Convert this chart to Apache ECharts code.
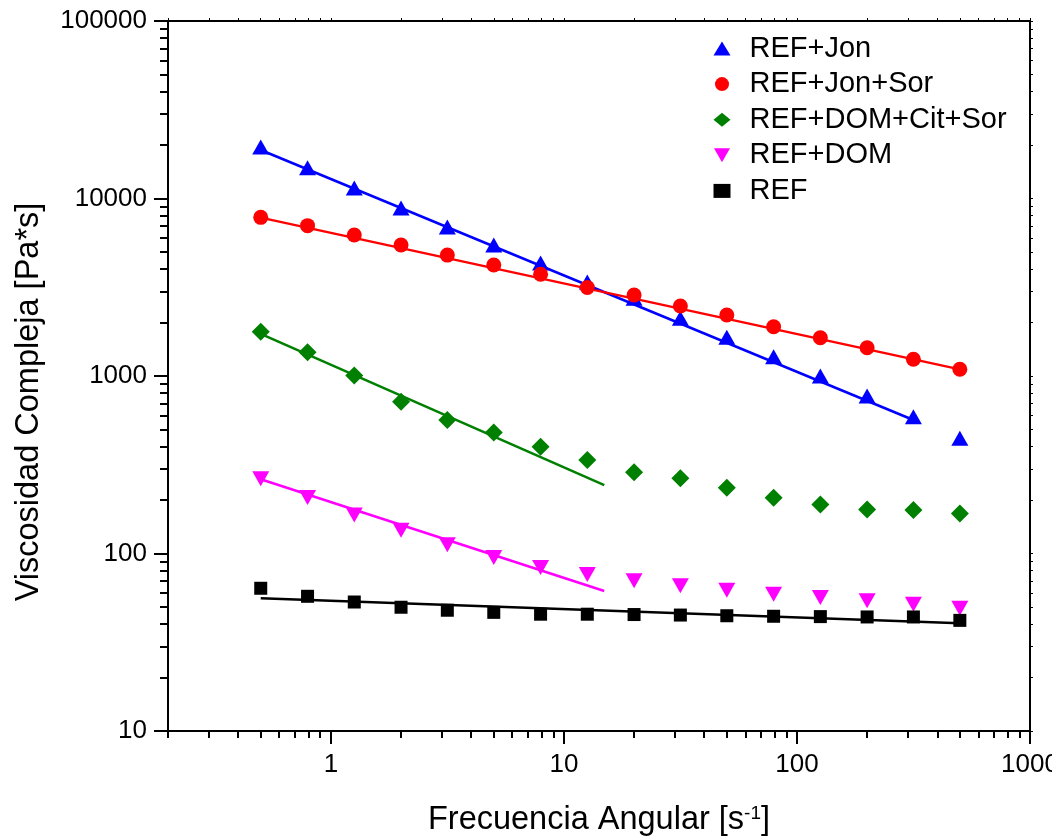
<!DOCTYPE html>
<html><head><meta charset="utf-8">
<script src="https://cdn.jsdelivr.net/npm/echarts@6/dist/echarts.min.js"></script>
<style>html,body{margin:0;padding:0;background:#fff}#c{width:1052px;height:840px}</style>
</head><body><div id="c"></div>
<script>
// ---- data ----
const freq = [0.5, 0.794, 1.26, 2, 3.16, 5, 7.94, 12.6, 20, 31.6, 50, 79.4, 126, 200, 316, 500];
const seriesNames = ['REF+Jon', 'REF+Jon+Sor', 'REF+DOM+Cit+Sor', 'REF+DOM', 'REF'];
const jon    = [19500, 14900, 11450, 8840, 6910, 5470, 4330, 3385, 2740, 2114, 1652, 1285, 1000, 771, 590, 446];
const jonSor = [7830, 7030, 6230, 5470, 4800, 4220, 3740, 3150, 2860, 2480, 2206, 1895, 1643, 1443, 1242, 1091];
const dcs    = [1778, 1360, 1005, 716, 565, 480, 400, 336, 287, 265, 235, 206, 189, 177, 176, 168];
const dom    = [264, 207, 165, 135, 112, 95, 83.4, 76.2, 70.2, 65.8, 62.1, 59.0, 56.5, 54.1, 51.8, 49.1];
const ref    = [63.7, 57.4, 53.3, 49.8, 47.9, 46.6, 45.5, 45.5, 45.3, 45.0, 44.6, 44.3, 44.1, 43.9, 43.9, 42.0];

// power-law fit lines (end points)
const fitJonX = [0.5, 316],  fitJonY = [18760, 565];
const fitJonSorX = [0.5, 500], fitJonSorY = [7800, 1090];
const fitDcsX = [0.5, 14.9], fitDcsY = [1725, 243];
const fitDomX = [0.5, 14.9], fitDomY = [262, 61.5];
const fitRefX = [0.5, 500],  fitRefY = [56, 40.5];

// tick values
const xMajorTicks = [1, 10, 100, 1000];
const xMinorTicks = [0.2, 0.3, 0.4, 0.5, 0.6, 0.7, 0.8, 0.9,
  2, 3, 4, 5, 6, 7, 8, 9, 20, 30, 40, 50, 60, 70, 80, 90,
  200, 300, 400, 500, 600, 700, 800, 900];
const yMajorTicks = [10, 100, 1000, 10000, 100000];
const yMinorTicks = [20, 30, 40, 50, 60, 70, 80, 90,
  200, 300, 400, 500, 600, 700, 800, 900,
  2000, 3000, 4000, 5000, 6000, 7000, 8000, 9000,
  20000, 30000, 40000, 50000, 60000, 70000, 80000, 90000];

const FONT = '"Liberation Sans", Arial, sans-serif';
const colors = ['#0000ff', '#ff0000', '#008000', '#ff00ff', '#000000'];
const symbols = ['triangle', 'circle', 'diamond', 'path://M0,0L2,0L1,1.75Z', 'rect'];
const symbolSizes = [[17, 15], 15, [18, 18], [17, 15], 13];
const values = [jon, jonSor, dcs, dom, ref];
const fits = [[fitJonX, fitJonY], [fitJonSorX, fitJonSorY], [fitDcsX, fitDcsY], [fitDomX, fitDomY], [fitRefX, fitRefY]];

const pair = (xs, ys) => xs.map((x, i) => [x, ys[i]]);

const series = [];
fits.forEach((f, k) => {
  series.push({
    name: 'fit ' + seriesNames[k], type: 'line', data: pair(f[0], f[1]),
    showSymbol: false, symbol: 'none', lineStyle: { color: colors[k], width: 2.5 }, z: 2, silent: true
  });
});
values.forEach((v, k) => {
  series.push({
    name: seriesNames[k], type: 'scatter', data: pair(freq, v),
    symbol: symbols[k], symbolSize: symbolSizes[k],
    itemStyle: { color: colors[k], opacity: 1 }, z: 3
  });
});

const black = '#000';
const plain = v => String(v);
const common = { type: 'log', splitLine: { show: false }, minorTick: { show: false } };

const option = {
  animation: false,
  backgroundColor: '#fff',
  grid: { left: 168, right: 22, top: 21, bottom: 109, containLabel: false, outerBoundsMode: 'none' },
  legend: {
    orient: 'vertical', left: 708.5, top: 29, itemWidth: 17, itemHeight: 14, itemGap: 6.6,
    selectedMode: false, data: seriesNames,
    textStyle: { fontSize: 29, color: black, fontFamily: FONT, lineHeight: 29, padding: [0, 0, 0, 14] }
  },
  xAxis: [
    Object.assign({}, common, {
      min: 0.2, max: 1000, position: 'bottom',
      axisLine: { show: true, onZero: false, lineStyle: { color: black, width: 2 } },
      axisTick: { show: true, inside: false, length: 13, customValues: xMajorTicks, lineStyle: { color: black, width: 2 } },
      axisLabel: { show: true, customValues: xMajorTicks, formatter: plain, fontSize: 26, color: black, fontFamily: FONT, margin: 21 },
      name: 'Frecuencia Angular [s{sup|-1}]', nameLocation: 'middle', nameGap: 73,
      nameTextStyle: { fontSize: 32.5, color: black, fontFamily: FONT,
        rich: { sup: { fontSize: 19, color: black, fontFamily: FONT, verticalAlign: 'top', lineHeight: 32 } } }
    }),
    Object.assign({}, common, {
      min: 0.2, max: 1000, position: 'bottom',
      axisLine: { show: false, onZero: false },
      axisTick: { show: true, inside: false, length: 7, customValues: xMinorTicks, lineStyle: { color: black, width: 2 } },
      axisLabel: { show: false }
    }),
    Object.assign({}, common, {
      min: 0.2, max: 1000, position: 'top',
      axisLine: { show: true, onZero: false, lineStyle: { color: black, width: 2 } },
      axisTick: { show: true, inside: false, length: 3, customValues: xMajorTicks.concat(xMinorTicks), lineStyle: { color: black, width: 1 } },
      axisLabel: { show: false }
    })
  ],
  yAxis: [
    Object.assign({}, common, {
      min: 10, max: 100000, position: 'left',
      axisLine: { show: true, onZero: false, lineStyle: { color: black, width: 2 } },
      axisTick: { show: true, inside: false, length: 14, customValues: yMajorTicks, lineStyle: { color: black, width: 2 } },
      axisLabel: { show: true, customValues: yMajorTicks, formatter: plain, fontSize: 26, color: black, fontFamily: FONT, margin: 21 },
      name: 'Viscosidad Compleja [Pa*s]', nameLocation: 'middle', nameGap: 122, nameRotate: 90,
      nameTextStyle: { fontSize: 32.5, color: black, fontFamily: FONT, padding: [0, 52, 0, 0] }
    }),
    Object.assign({}, common, {
      min: 10, max: 100000, position: 'left',
      axisLine: { show: false, onZero: false },
      axisTick: { show: true, inside: false, length: 8, customValues: yMinorTicks, lineStyle: { color: black, width: 2 } },
      axisLabel: { show: false }
    }),
    Object.assign({}, common, {
      min: 10, max: 100000, position: 'right',
      axisLine: { show: true, onZero: false, lineStyle: { color: black, width: 2 } },
      axisTick: { show: true, inside: false, length: 3, customValues: yMajorTicks.concat(yMinorTicks), lineStyle: { color: black, width: 1 } },
      axisLabel: { show: false }
    })
  ],
  series: series
};

const chart = echarts.init(document.getElementById('c'), null, { renderer: 'canvas' });
chart.setOption(option);
</script>
</body></html>
